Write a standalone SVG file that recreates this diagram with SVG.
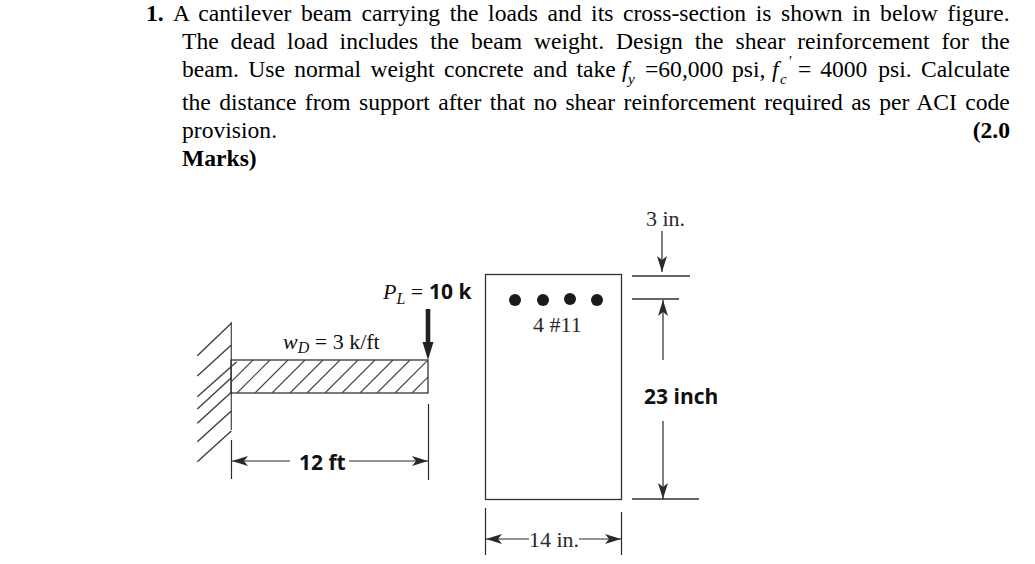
<svg xmlns="http://www.w3.org/2000/svg" width="1035" height="564" viewBox="0 0 1035 564">
<style>
text{fill:#111}
.b{font-family:"Liberation Serif",serif;font-size:23.6px;fill:#000}
.bb{font-weight:bold}
.i{font-style:italic}
.sub{font-family:"Liberation Serif",serif;font-style:italic;font-size:15px;fill:#000}
.s{font-family:"Liberation Serif",serif;font-size:22px;fill:#2a2a2a}
.c{font-family:"Open Sans","Liberation Sans",sans-serif;font-size:21px;font-weight:bold;fill:#111}
.l{stroke:#333;stroke-width:1.3;fill:none}
.h{stroke:#444;stroke-width:1.2;fill:none}
.w{stroke:#444;stroke-width:1.5;fill:none}
.d{stroke:#2a2a2a;stroke-width:1.2;fill:none}
.bar{fill:#1a1a1a}
</style>
<defs>
<marker id="a" viewBox="0 0 16 10" refX="16" refY="5" markerWidth="16" markerHeight="10" markerUnits="userSpaceOnUse" orient="auto-start-reverse"><path d="M0 0L16 5L0 10L4 5Z" fill="#2a2a2a"/></marker>
<clipPath id="cb"><rect x="231" y="360" width="197" height="33"/></clipPath>
</defs>
<g id="problem-text">
<text class="b bb" y="21" x="146">1.</text>
<text class="b" y="21" x="173" word-spacing="3.67px">A cantilever beam carrying the loads and its cross-section is shown in below figure.</text>
<text class="b" y="49" x="182" word-spacing="6.03px">The dead load includes the beam weight. Design the shear reinforcement for the</text>
<text class="b" y="77" x="182" word-spacing="3.4px">beam. Use normal weight concrete and take</text>
<text class="b i" y="77" x="622">f</text><text class="sub" y="84" x="628">y</text>
<text class="b" y="77" x="645">=60,000</text>
<text class="b" y="77" x="732">psi,</text>
<text class="b i" y="77" x="772">f</text><text class="sub" y="84" x="780">c</text><text class="sub" y="66" x="788">'</text>
<text class="b" y="77" x="798" word-spacing="3px">= 4000</text>
<text class="b" y="77" x="1010" text-anchor="end" word-spacing="3.4px">psi. Calculate</text>
<text class="b" y="110" x="182" word-spacing="2.45px">the distance from support after that no shear reinforcement required as per ACI code</text>
<text class="b" y="138" x="182">provision.</text>
<text class="b bb" y="138" x="1010" text-anchor="end">(2.0</text>
<text class="b bb" y="166" x="182">Marks)</text>
</g>
<g id="connectors">
<path class="h" d="M231.300 322V430"/>
<path class="w" d="M197.300 355.700L231.300 323.300M197.300 376L231.300 345M197.300 396.700L236.700 361.700M197.300 409L231.300 377.700M197.300 423.300L231.300 392.300M197.300 441.700L231.300 411M197.300 461.700L231.300 431"/>
<path class="d" d="M231.500 440V479M428.500 404V480M485.500 508V555M621.500 512V555"/>
<path class="d" marker-start="url(#a)" d="M232 461H290"/>
<path class="d" marker-end="url(#a)" d="M349 461H428"/>
<path class="d" marker-start="url(#a)" d="M486 539H529"/>
<path class="d" marker-end="url(#a)" d="M579 539H621"/>
<path class="l" d="M632 276H690M632 299H679M632 499H699"/>
<path class="d" marker-end="url(#a)" d="M662 231V272"/>
<path class="d" marker-end="url(#a)" d="M663 360V300"/>
<path class="d" marker-end="url(#a)" d="M663 421V499"/>
</g>
<g id="beam">
<rect class="l" x="231" y="360" width="197" height="33"/>
<g clip-path="url(#cb)">
<path class="h" d="M220 393L253 360M237 393L270 360M255 393L288 360M272 393L305 360M290 393L323 360M307 393L340 360M325 393L358 360M342 393L375 360M360 393L393 360M377 393L410 360M395 393L428 360M412 393L445 360"/>
</g>
</g>
<g id="point-load">
<path fill="#222" d="M425.700 309H430.300V342H433.500L428 360L422.500 342H425.700Z"/>
<text x="383" y="299" font-family="Liberation Serif,serif" font-size="22" fill="#2a2a2a"><tspan font-style="italic">P</tspan><tspan font-style="italic" font-size="16" dy="5">L</tspan><tspan dy="-5"> = </tspan></text>
<text class="c" x="429" y="299">10 k</text>
</g>
<g id="dead-load"><text x="283" y="349" font-family="Liberation Serif,serif" font-size="22" fill="#2a2a2a"><tspan font-style="italic">w</tspan><tspan font-style="italic" font-size="16" dy="4">D</tspan><tspan dy="-4"> = 3 k/ft</tspan></text></g>
<g id="span-label"><text class="c" x="299" y="470">12 ft</text></g>
<g id="section">
<rect class="l" x="485.500" y="274.500" width="136" height="225"/>
<circle class="bar" cx="515" cy="300" r="6"/><circle class="bar" cx="543" cy="300" r="6"/><circle class="bar" cx="570" cy="299" r="6"/><circle class="bar" cx="597" cy="300" r="6"/>
<text class="s" x="533" y="332">4 #11</text>
</g>
<g id="dim-labels">
<text class="s" x="646" y="226">3 in.</text>
<text class="c" x="644" y="404">23 inch</text>
<text class="s" x="529" y="547">14 in.</text>
</g>
</svg>
